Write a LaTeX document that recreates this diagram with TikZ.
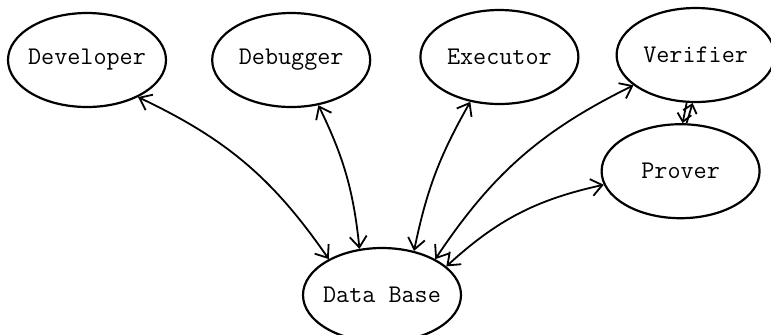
\documentclass[tikz,border=0pt]{standalone}
\usetikzlibrary{shapes.geometric,arrows.meta,positioning}

\begin{document}
\begin{tikzpicture}[
    node distance=22pt,
    blob/.style={draw, ellipse, line width=1.1pt, minimum width=79pt,
      minimum height=47pt, inner xsep=-4pt, inner ysep=0pt,
      font=\fontsize{12.7}{15}\selectfont\ttfamily},
    link/.style={{Straight Barb[length=5.5pt,width=8.5pt]}-{Straight Barb[length=5.5pt,width=8.5pt]},
      line width=0.9pt},
    halflink/.style={-{Straight Barb[length=4pt,width=7pt]}, line width=0.9pt}
  ]
  \useasboundingbox (0,0) rectangle (385.5pt,-167pt);
  \node[blob] (developer) at (43.5pt,-30pt) {Developer};
  \node[blob, right=of developer] (debugger) {Debugger};
  \node[blob, right=24pt of debugger, yshift=1.5pt] (executor) {Executor};
  \node[blob, right=18pt of executor, yshift=1pt] (verifier) {Verifier};
  \node[blob, below=10pt of verifier, xshift=-7.5pt] (prover) {Prover};
  \node[blob] (db) at (191pt,-147.5pt) {Data Base};
  \draw[link] (developer.-36) to[bend left=15] (db.146);
  \draw[link] (debugger.-59) to[bend left=10] (db.116);
  \draw[link] (executor.-123) to[bend right=9] (db.54);
  \draw[link] (verifier.-154) to[bend right=15] (db.34);
  \draw[link] (prover.-170) to[bend right=15] (db.24);
  % pair of arrows between verifier and prover
  \draw[halflink] ([xshift=3pt]prover.north) -- ([xshift=-1.5pt]verifier.south);
  \draw[halflink] ([xshift=-4.5pt]verifier.south) -- ([xshift=1pt]prover.north);
\end{tikzpicture}
\end{document}
